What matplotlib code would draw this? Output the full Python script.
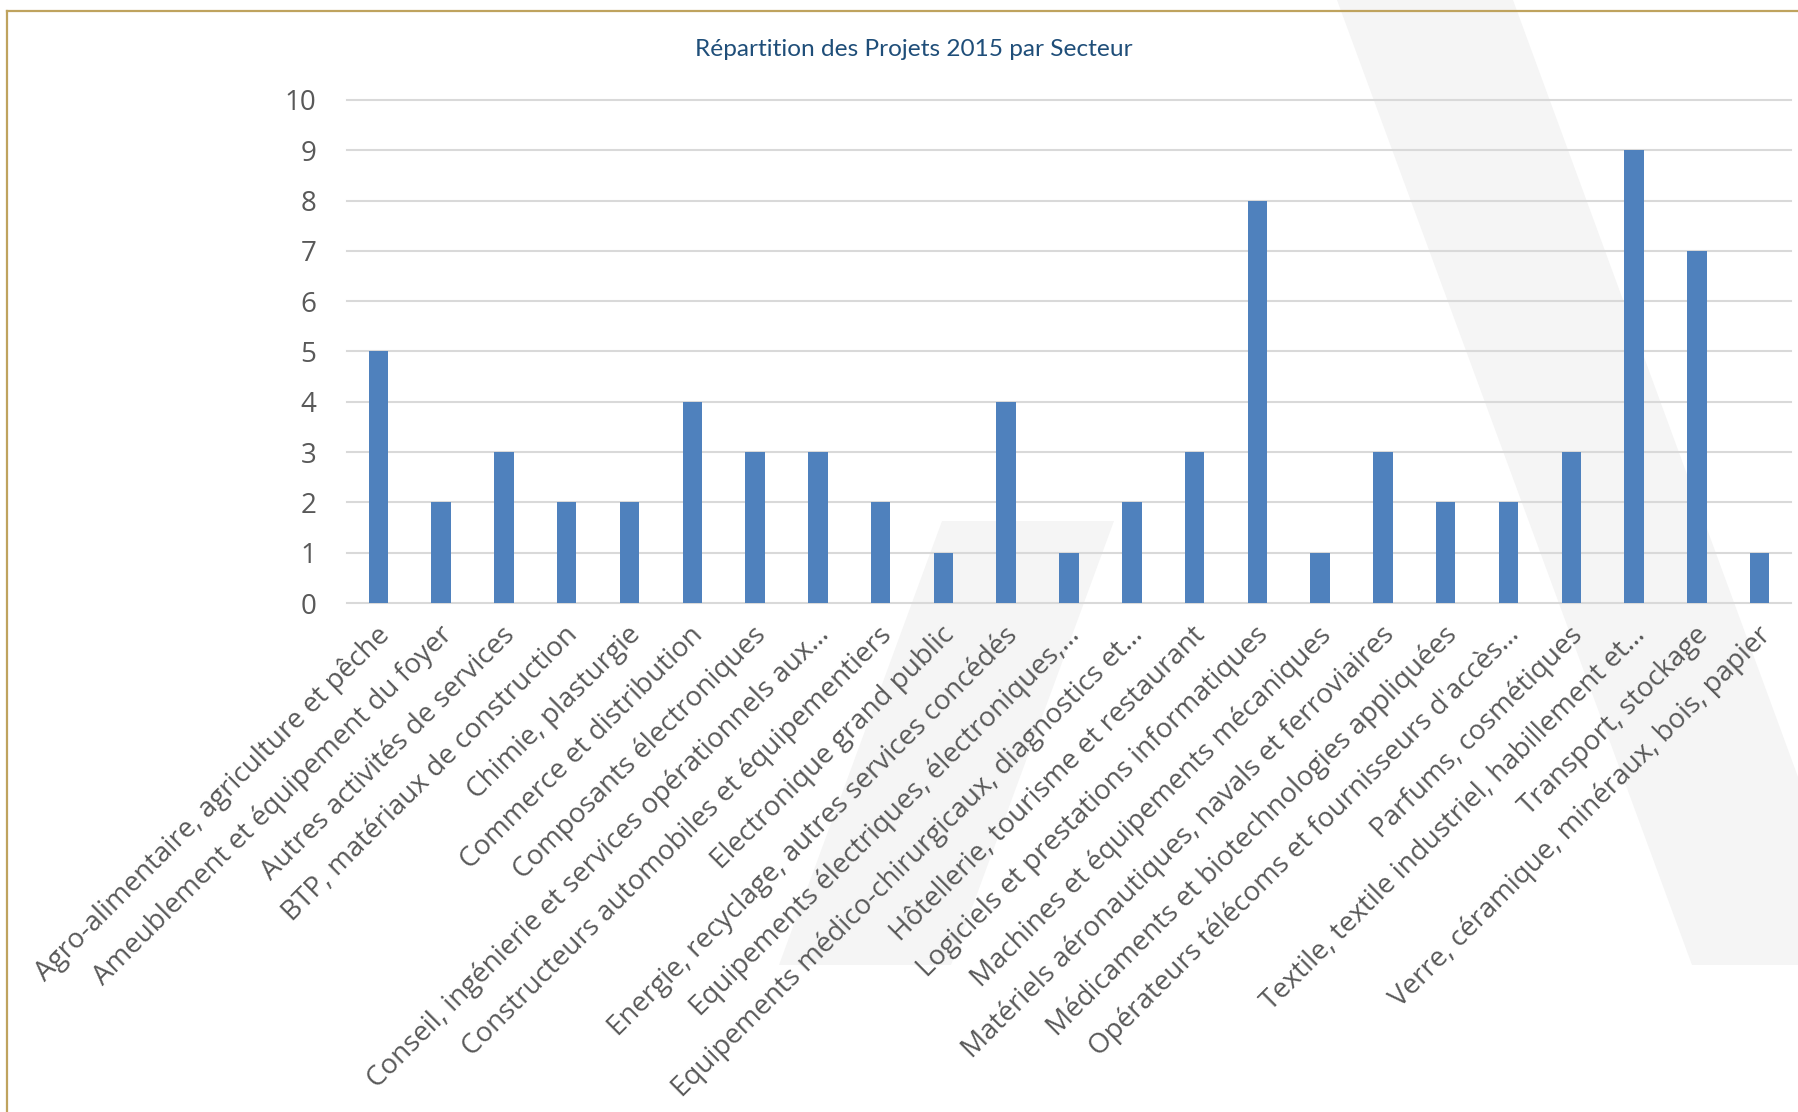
import matplotlib
matplotlib.use('Agg')
import matplotlib.pyplot as plt
from matplotlib.patches import Polygon
from matplotlib.lines import Line2D
import matplotlib.transforms as mtransforms

categories = [
    "Agro-alimentaire, agriculture et pêche",
    "Ameublement et équipement du foyer",
    "Autres activités de services",
    "BTP, matériaux de construction",
    "Chimie, plasturgie",
    "Commerce et distribution",
    "Composants électroniques",
    "Conseil, ingénierie et services opérationnels aux…",
    "Constructeurs automobiles et équipementiers",
    "Electronique grand public",
    "Energie, recyclage, autres services concédés",
    "Equipements électriques, électroniques,…",
    "Equipements médico-chirurgicaux, diagnostics et…",
    "Hôtellerie, tourisme et restaurant",
    "Logiciels et prestations informatiques",
    "Machines et équipements mécaniques",
    "Matériels aéronautiques, navals et ferroviaires",
    "Médicaments et biotechnologies appliquées",
    "Opérateurs télécoms et fournisseurs d'accès…",
    "Parfums, cosmétiques",
    "Textile, textile industriel, habillement et…",
    "Transport, stockage",
    "Verre, céramique, minéraux, bois, papier",
]
values = [5, 2, 3, 2, 2, 4, 3, 3, 2, 1, 4, 1, 2, 3, 8, 1, 3, 2, 2, 3, 9, 7, 1]
y_ticks = [0, 1, 2, 3, 4, 5, 6, 7, 8, 9, 10]
title = "Répartition des Projets 2015 par Secteur"

W, H = 1798, 1112
fig = plt.figure(figsize=(W / 100, H / 100), dpi=100)
fig.patch.set_facecolor('white')

def fx(x):
    return x / W

def fy(y):
    return 1 - y / H

# background watermark shapes
shade = '#F5F5F5'
fig.patches.append(Polygon([(fx(942), fy(521)), (fx(1114), fy(521)), (fx(951), fy(965)), (fx(779), fy(965))],
                           closed=True, transform=fig.transFigure, facecolor=shade, edgecolor='none', zorder=-5))
fig.patches.append(Polygon([(fx(1337), fy(0)), (fx(1513), fy(0)), (fx(1867), fy(965)), (fx(1692), fy(965))],
                           closed=True, transform=fig.transFigure, facecolor=shade, edgecolor='none', zorder=-5))

# frame border (top and left)
gold = '#BFA35E'
fig.lines.append(Line2D([fx(6.5), fx(1798)], [fy(10.5), fy(10.5)], transform=fig.transFigure, color=gold, lw=1.6))
fig.lines.append(Line2D([fx(6.5), fx(6.5)], [fy(10.5), fy(1112)], transform=fig.transFigure, color=gold, lw=1.6))

ax = fig.add_axes([fx(347), fy(603), (1791 - 347) / W, (603 - 100) / H])
ax.set_zorder(2)
ax.set_facecolor('none')
x = list(range(len(categories)))
ax.bar(x, values, width=0.31, color='#4F81BD', zorder=3)
ax.set_xlim(-0.5, len(categories) - 0.5)
ax.set_ylim(0, 10)
ax.set_yticks(y_ticks)
ax.set_yticklabels([str(t) for t in y_ticks])
ax.yaxis.grid(True, color='#D9D9D9', lw=1.5)
ax.set_axisbelow(True)
for gl in ax.get_ygridlines():
    gl.set_clip_on(False)
for s in ax.spines.values():
    s.set_visible(False)
ax.tick_params(axis='y', length=0, pad=22, labelsize=20, labelcolor='#595959')
for lab in ax.get_yticklabels():
    lab.set_family('Open Sans')

ax.set_xticks(x)
ax.set_xticklabels(categories, rotation=45, ha='right', va='center', rotation_mode='anchor',
                   fontsize=20, color='#595959', family='Open Sans')
ax.tick_params(axis='x', length=0, pad=0)
offset = mtransforms.ScaledTranslation(7 / 100, -28 / 100, fig.dpi_scale_trans)
for lab in ax.get_xticklabels():
    lab.set_transform(lab.get_transform() + offset)

fig.text(fx(914), fy(56), title, ha='center', va='baseline', fontsize=17.6,
         color='#1F4E79', family=['Lato'])

fig.savefig('out.png', dpi=100)
